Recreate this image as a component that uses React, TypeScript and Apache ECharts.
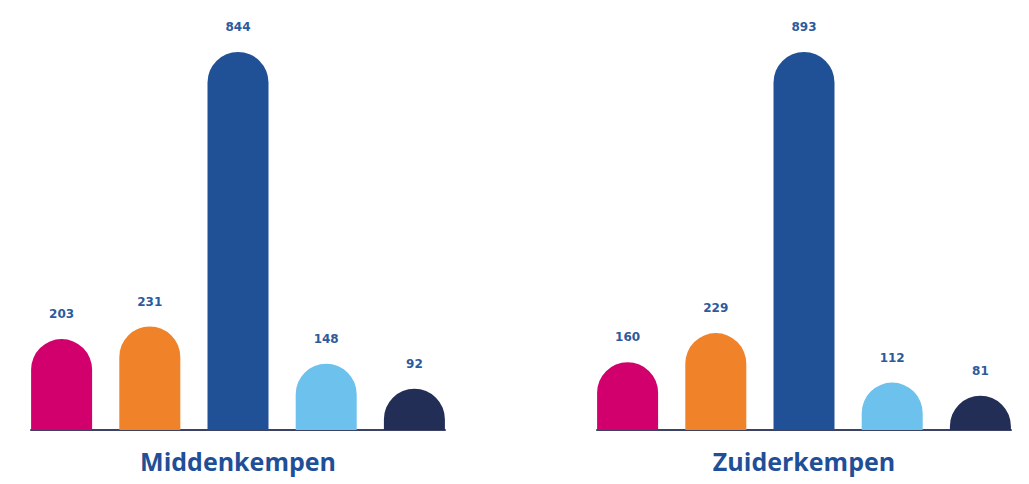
import React, { useEffect, useRef } from "react";
import * as echarts from "echarts";

const regions = ["Middenkempen", "Zuiderkempen"];
const categories = ["A", "B", "C", "D", "E"];
const middenValues = [203, 231, 844, 148, 92];
const zuiderValues = [160, 229, 893, 112, 81];
const barColors = ["#d1006c", "#f0822a", "#205196", "#6dc1ed", "#232e57"];

export default function App() {
  const ref = useRef<HTMLDivElement>(null);
  useEffect(() => {
    if (!ref.current) return;
    const chart = echarts.init(ref.current, undefined, { renderer: "svg" });
    const groups = [middenValues, zuiderValues];
    const lefts = [31, 597];
    const gridW = 414;
    const option: any = {
      animation: false,
      grid: lefts.map((l) => ({ left: l, width: gridW, top: 52, height: 378 })),
      xAxis: groups.map((_, i) => ({
        type: "value",
        gridIndex: i,
        min: -0.347,
        max: categories.length - 1 + 0.347,
        axisLine: { show: true, onZero: false, lineStyle: { color: "#3b4263", width: 2 } },
        axisTick: { show: false },
        axisLabel: { show: false },
        splitLine: { show: false },
      })),
      yAxis: groups.map((vals, i) => ({
        type: "value",
        gridIndex: i,
        min: 0,
        max: Math.max(...vals),
        show: false,
        splitLine: { show: false },
      })),
      series: groups.map((vals, i) => ({
        type: "bar",
        xAxisIndex: i,
        yAxisIndex: i,
        barWidth: 61,
        data: vals.map((v, j) => ({
          value: [j, v],
          itemStyle: { color: barColors[j], borderRadius: [30.5, 30.5, 0, 0] },
        })),
        label: {
          show: true,
          position: "top",
          distance: 19,
          formatter: (p: any) => String(p.value[1]),
          color: "#2d5a9c",
          fontFamily: "DejaVu Sans",
          fontWeight: "bold",
          fontSize: 12,
        },
      })),
      graphic: regions.map((name, i) => ({
        type: "text",
        x: lefts[i] + gridW / 2,
        y: 448,
        style: {
          text: name,
          textAlign: "center",
          fill: "#1f4f97",
          font: "bold 25px 'Open Sans'",
        },
      })),
    };
    chart.setOption(option);
    return () => chart.dispose();
  }, []);
  return (
    <div
      ref={ref}
      style={{ position: "absolute", left: 0, top: 0, width: 1029, height: 484 }}
    />
  );
}
